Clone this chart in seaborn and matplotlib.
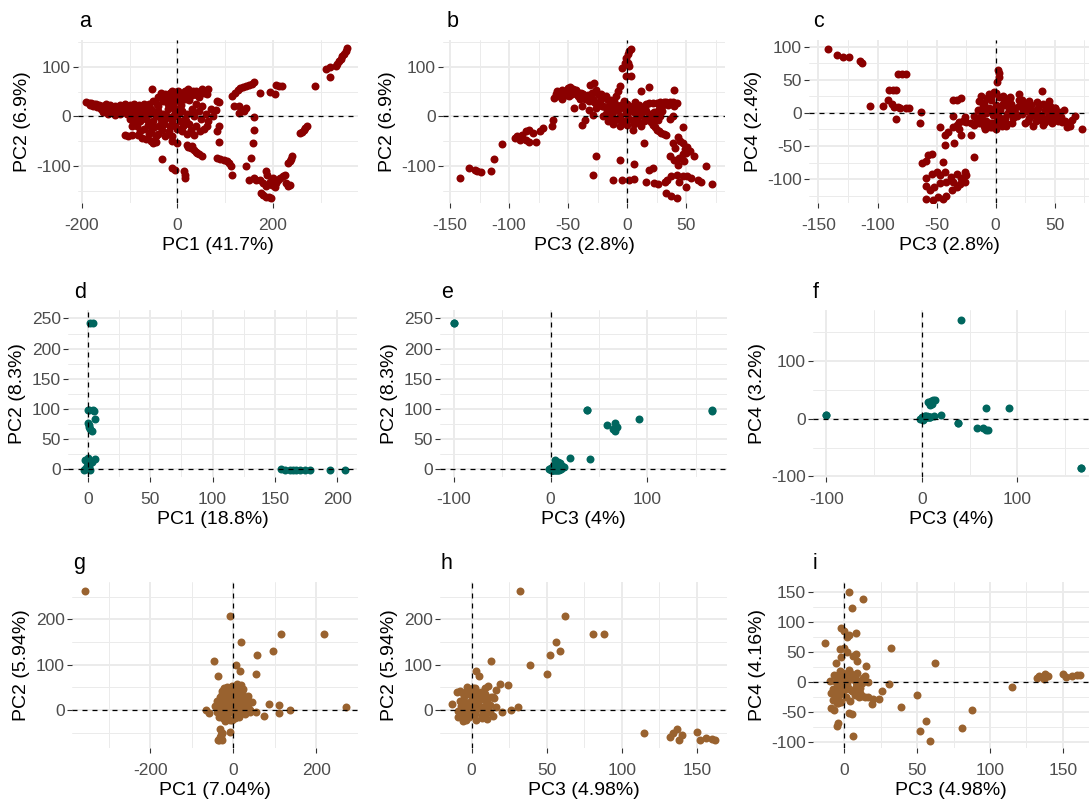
import matplotlib
matplotlib.use("Agg")
import matplotlib.pyplot as plt
import numpy as np
import pandas as pd
import seaborn as sns
from matplotlib.ticker import FixedLocator

# ---------------- data ----------------
# Dataset 1 (dark red): PC1 vs PC2
a_pc1 = [
    -192, -186, -180, -175, -170, -165, -160, -155, -150, -145, -140, -135, -130, -125, -120,
    -182, -176, -168, -160, -152, -146, -140, -134, -128, -150, -140, -130, -120, -155, -145,
    -115, -108, -100, -95, -90, -85, -80, -75, -70, -65,
    -60, -55, -50, -45, -40, -35, -30, -25, -20, -15,
    -10, -5, -100, -92, -85, -78, -70, -62, -55, -48,
    -40, -32, -25, -18, -110, -103, -96, -83, -75, -66,
    -55, -50, -44, -60, -50, -40, -30, -20, -10, 0,
    -70, -80, -90, -100, -110, -120, -60, -35, -120, -130,
    -105, -88, -72, -58, -42, -28, -12, -65, -52, -38,
    -22, -8, 5, 18, 32, -95, -78, -45, -15, 10,
    -54, -40, -30, -25, -20, -15, -10, -5, 0, 5,
    10, 15, 20, 25, 30, 35, 40, 45, 50, 55,
    60, 65, -5, 5, 15, 25,
    -35, -12, 2, 12, 22, 32, 42, 52, 62, -28, 8, 45,
    0, 5, 10, 15, 20, 25, 30, 35, 40, 45,
    50, 55, 60, 65, 70, 75, 12, 28, 48, 62,
    -5, 8, 38, 52, 20, 35, 0, -12,
    -12, 0, -33, -12, -5, 13, 16, 16, 20, 23,
    28, 34, 38, 41, 46, 52, 30,
    80, 83, 87, 87, 82, 87, 83, 90, 98, 103, 108, 112, 115,
    115, 120, 126, 132, 138, 144, 150, 156, 161, 118,
    129, 144, 129, 140, 161, 161, 158, 154, 144, 149,
    172, 193, 204, 207, 218, 212,
    160, 165, 172, 179, 186, 188, 193, 198, 204, 210,
    214, 220, 225, 228, 232, 235, 175, 180, 186, 191,
    196, 207, 200, 185,
    232, 235, 237, 239, 257, 260, 264, 268, 271, 288,
    310, 320, 320, 331, 335, 338, 342, 345, 348, 352,
    356,
]
a_pc2 = [
    28, 27, 26, 25, 24, 22, 21, 20, 19, 17, 16, 15, 14, 13, 12,
    22, 20, 18, 15, 13, 11, 10, 9, 8, 24, 22, 21, 18, 8, 5,
    15, 12, 18, 8, 15, 5, 12, 0, 10, -5,
    5, 15, -10, 0, 10, -15, 5, -5, 15, -20,
    0, 10, -5, -12, -20, -10, -25, -18, -30, -22,
    -35, -28, -40, -30, -37, -40, -38, -37, -43, -45,
    -50, -53, -52, 25, 30, 20, 30, 25, 20, 15,
    25, 22, 25, 22, 25, 22, -35, -5, 5, 3,
    5, -2, 18, -12, 25, -15, -10, 15, 8, -20,
    0, 28, 8, -10, 5, -20, -30, -40, 35, -30,
    55, 38, 42, 45, 38, 48, 42, 50, 45, 40,
    48, 52, 45, 50, 42, 48, 52, 45, 50, 48,
    52, 55, 35, 30, 35, 32,
    48, 52, 52, 42, 55, 52, 42, 55, 45, 35, 38, 38,
    0, -10, 10, -5, 5, -15, 15, 0, -20, 10,
    -5, -25, 5, -10, 15, 0, -20, -28, -30, -20,
    -20, 22, 25, 20, -35, -38, -25, -50,
    -40, -54, -86, -105, -108, -111, -125, -118, -58, -61,
    -64, -68, -72, -74, -77, -81, -60,
    13, 30, 28, -20, -30, -51, -84, -86, -88, -90, -94, -100, -118,
    40, 47, 54, 57, 59, 61, 64, 66, 69, 20,
    20, 17, 7, 10, -1, -27, -54, -84, -101, -128,
    47, 49, 44, 64, 61, 62,
    -125, -128, -128, -135, -111, -118, -132, -138, -142, -128,
    -125, -120, -118, -135, -140, -138, -155, -158, -162, -163,
    -165, -135, -125, -140,
    -95, -91, -86, -81, -34, -31, -27, -24, -20, 62,
    96, 99, 80, 101, 106, 111, 116, 121, 126, 132,
    138,
]

# Dataset 1: PC3 vs PC2
b_pc3 = [
    -142, -134, -129, -127, -124, -115, -113, -106,
    -95, -93, -89, -86, -83, -80, -77, -74, -71, -86, -91, -83,
    -64, -63, -38, -36,
    -62, -59, -55, -50, -48, -43, -39, -35, -31, -28,
    -26, -22, -18, -15, -12, -9, -8, -6, -55, -49,
    -45, -32, -29, -26, -21, -40, -38, -29, -23,
    -60, -57, -53, -50, -46, -44, -41, -37, -33, -30,
    -27, -24, -20, -17, -14, -11, -58, -52, -47, -42,
    -36, -32, -28, -24, -20, -16,
    -4, -2, -1, 1, 2, 3, -1, 3, 1, 2,
    -18, -15, -12, -10, -8, -6, -4, -2, 0, 2,
    4, 6, 8, 10, 12, 14, 16, 18, 20, 22,
    24, -14, -10, -5, 0, 5, 10, -16, -12, -6,
    0, 6, 12, 26, 28, 30, -20, -3, 3, 7,
    -13, -7, -1, 5, 11, 17, 23, -9, -3, 3, 9, 15, 21, -17, 27,
    16, 19, 22, 25, 28, 31, 33, 36, 39, 42, 35, 40, 30,
    16, 20, 22, 24, 25, 27, 29, 31, 33, 39, 36,
    12, 19, 40, 5, 14,
    47, 43, 47, 51, 39, 36, 40, 43, 47, 50, 57, 48, 45, 49, 53, 41, 44,
    -26, -29, -12, -6, -4, 2, 6, 6, 16, 19,
    22, 23, 26, 32, 34, 33, 37, 42, 37, 42,
    47, 51, 54, 50, 60, 63, 67, 72, 44,
]
b_pc2 = [
    -125, -105, -108, -111, -113, -111, -86, -55,
    -44, -40, -37, -30, -27, -34, -51, -30, -24, -47, -47, -51,
    -20, -8, -17, -7,
    37, 51, 54, 57, 59, 54, 47, 40, 64, 67,
    54, 44, 40, 30, 27, 40, 51, 62, 34, 40,
    17, 13, 3, 17, 20, 34, 20, 34, 30,
    45, 50, 48, 52, 55, 50, 48, 45, 42, 48,
    50, 42, 38, 35, 32, 30, 40, 42, 44, 40,
    35, 30, 28, 22, 20, 18,
    98, 108, 118, 125, 132, 135, 81, 81, 108, 101,
    5, -2, 8, -8, 12, 0, -12, 15, 5, -5,
    18, 8, -2, 12, 2, -10, 10, -3, 5, -12,
    3, 10, 18, 22, 25, 20, 22, -10, -15, -20,
    -18, -15, -20, -8, 0, 10, 0, 30, 10, 28,
    0, -5, 8, -8, 6, -6, 8, 22, -10, 15, -12, 18, -5, 12, 15,
    24, 26, 27, 27, 28, 28, 29, 29, 29, 27, 22, 20, 20,
    -7, -12, -17, -22, -27, -30, -34, -36, -37, 0, -5,
    51, 59, 54, -27, -53,
    -22, -42, -54, -61, -54, -81, -88, -98, -76, -74, -81, -91, -50, -66, -70, -64, -84,
    -80, -118, -128, -88, -128, -128, -127, -97, -132, -109,
    -105, -135, -137, -132, -128, -155, -160, -165, -121, -118,
    -121, -121, -125, -142, -128, -132, -101, -137, -132,
]

# Dataset 1: PC3 vs PC4
c_pc3 = [
    -142, -134, -129, -124, -115, -113, -106,
    -83, -79, -76, -90, -87, -84, -91, -88, -95, -86,
    -83, -81, -84, -76, -73, -63, -64,
    -36, -33, -29, -36, -26,
    -47, -43, -40, -36, -33, -31, -28, -25, -21, -18,
    -14, -11, -31, -29, -35, -21, -43, -18, -45, -57,
    -54, -62, -59,
    -59, -54, -50, -47, -43, -38, -33, -29, -26, -25,
    -26, -30, -33, -37, -42, -45, -49, -53, -59, -56,
    -52, -47, -59, -42, -36,
    2, 3, 3, 1,
    -15, -12, -10, -8, -6, -4, -2, 0, 2, 4,
    6, 8, 10, 12, 14, 16, 18, -14, -10, -5,
    0, 5, -12, -6, 0, 4, 8, -2, 2, -8,
    10, -3, 20, -18, -16, 12, -1, 7,
    -13, -9, -5, -1, 3, 7, 11, 15, -11, -7,
    -3, 1, 5, 9, 13, -9, -4, 3, 9, 16,
    20, 22, 24, 26, 28, 30, 32, 34, 36, 38,
    40, 42, 44, 46, 48, 50, 52, 54, 56, 58,
    60, 63, 65, 67, 73, 22, 28, 35, 45, 25,
    32, 40, 48, 38, 30, 42, 51, 50, 39, 20,
    12,
    23, 27, 31, 35, 39, 43, 47, 51, 55, 59, 26, 34, 44, 53, 62,
]
c_pc4 = [
    96, 87, 85, 85, 78, 75, 10,
    59, 59, 59, 34, 35, 35, 19, 14, 10, 9,
    9, 8, -9, 7, 8, 2, -15,
    19, 20, 22, -4, -6,
    -21, -34, -29, -21, -19, -14, -12, -14, -16, -19,
    -16, -11, -24, -34, -46, -34, -48, -66, -74, -64,
    -62, -76, -72,
    -99, -92, -89, -94, -89, -97, -92, -99, -89, -94,
    -105, -107, -112, -117, -125, -130, -127, -131, -130, -117,
    -112, -106, -110, -105, -105,
    65, 60, 54, 47,
    5, -5, 15, -12, 8, 20, -3, 12, -18, 5,
    25, -8, 15, 0, -15, 8, -5, 18, -20, -22,
    -25, -20, 25, 28, 30, -10, 20, 0, 2, 0,
    -2, -15, 20, -5, -12, 22, 32, 12,
    -8, 3, -16, 6, -6, 16, 5, -8, 10, 22,
    -22, -12, 12, -15, 14, -25, 26, 24, -20, 0,
    10, -2, 15, 3, -8, 12, 0, -12, 8, -3,
    14, 5, -6, 10, 0, 7, -8, 2, -14, 4,
    -21, -20, -10, -5, -25, 20, 18, 17, 18, -15,
    -20, -18, -15, -10, 5, -14, -6, 7, 33, 29,
    24,
    5, -12, -3, 4, -8, 10, -10, -2, -6, -12, 10, -5, 2, -12, -15,
]

# Dataset 2 (teal): one entry per sample
d2_pc1 = [2, 4, 1, 4, 6, 1, 2, 0, 1, 3, 6, 0, 155, 158, 162, 165, 167, 170, 174, 178,
          194, 206, -2, 0, -1, 1, 2, 0, -1, 3, -3, 0, 1, 2, -2, 0, 5]
d2_pc2 = [243, 243, 98, 98, 84, 73, 66, 76, 70, 64, 17, 19, 0, -2, -2, -2, -2, -2, -2, -2,
          -2, -2, 0, 2, 5, 8, 10, 6, 3, 12, -2, 1, 4, -1, 15, 98, 97]
d2_pc3 = [-100, -100, 38, 167, 91, 58, 64, 67, 69, 67, 41, 20, 2, 4, 6, 1, 3, 5, 2, 0,
          8, 7, -2, 0, 3, 6, 10, 12, 14, 8, 1, 11, 13, 9, 5, 38, 167]
d2_pc4 = [6, 7, -7, -86, 18, -17, -16, 18, -20, -19, 170, 6, 1, 2, 3, 0, 4, 2, 3, 1,
          2, 3, 0, 2, 4, 28, 30, 32, 33, 24, -2, 26, 4, 3, 5, -7, -86]

# Dataset 3 (brown): one entry per sample
d3_pc1 = [
    -356, -8, 115, 219, 19, 95, 58, -47, 6, 15, 55, -36, 10, 18, 20, -3, 32,
    -26, -32, -28, -31, -36, -30, -8, -34, -29, -33, -27,
    270, 137, 109, 111, 85, 75, 55, 36, 40, -65, -58, -34, -8,
    -40, -35, -30, -28, -25, -22, -20, -18, -15, -12,
    -10, -8, -5, -3, 0, 2, 4, 6, 8, 10,
    12, 14, 16, 18, 20, 22, 25, 28, 30, 35,
    40, 45, -38, -32, -26, -24, -16, -14, -6, -2,
    3, 5, 9, 13, 17, 24, -44, -20, 0, -10,
    -12, 4, -6, 7, -18, -4, 10, -28, 0, 12, -20, 14, -8,
    -15, 8, -5, 20, -22,
]
d3_pc2 = [
    262, 208, 167, 167, 149, 130, 121, 107, 99, 86, 79, 74, 57, 54, 44, 53, 26,
    -50, -59, -52, -43, -66, -56, -49, -66, -63, -65, -66,
    7, -1, 11, -6, 13, -13, -4, 7, -4, 0, -7, -15, -22,
    20, 10, 0, 35, -10, 48, 15, 5, 25, -20,
    40, 8, 30, -5, 18, 45, 2, 22, -12, 35,
    10, 28, -2, 15, 40, 5, 20, -8, 12, 30,
    0, 18, -5, 28, 42, -18, 50, -12, 48, -22,
    33, -18, 48, -15, 30, 45, 8, -25, 5, 12,
    10, 15, 22, 6, 30, 35, 2, 18, 40, 25, 8, 38, 16,
    20, 12, 2, 28, 24,
]
d3_pc3 = [
    32, 62, 81, 88, 56, 59, 52, 13, 39, 3, 50, 5, 19, 24, 16, 11, 15,
    115, 132, 134, 137, 138, 140, 150, 152, 156, 160, 162,
    31, 26, 12, 8, -13, 14, 20, 16, 11, -5, -7, -9, -4,
    -8, -6, -4, -2, 0, 2, 4, 6, 8, 10,
    -10, -7, -5, -3, -1, 1, 3, 5, 7, 9,
    11, 13, -9, -6, -4, -2, 0, 2, 4, 6,
    8, 10, 12, 14, -8, -5, -3, -1, 1, 3,
    5, 7, 9, -2, 0, 2, -4, -6, 0, -3,
    -2, 0, 3, 8, 2, -3, 0, 2, 6, 8, 9, -6, -2,
    -5, -4, 6, 3, 5,
]
d3_pc4 = [
    57, 32, -76, -47, -65, -99, -81, 137, -42, 150, -22, 123, -37, -28, -25, -18, 27,
    -8, 7, 10, 4, 13, 10, 13, 8, 10, 11, 11,
    -4, -15, -24, -20, 64, -25, -29, -1, -10, -36, -46, -43, -35,
    -30, -20, -10, 5, 10, -5, 15, -15, 0, -25,
    2, 12, -8, 18, -3, 8, -12, 4, -22, 14,
    -6, 6, -18, 10, -28, 16, -14, 0, -32, 12,
    -8, 2, -2, 9, -12, 6, -20, 14, -26, 19,
    -16, 7, -4, -34, 3, -9, 11, -1, 0, -13,
    89, 85, 78, 81, 74, 54, 57, 49, 43, 47, 34, 32, 41,
    -73, -69, -90, -51, -53,
]

panel_letters = ["a", "b", "c", "d", "e", "f", "g", "h", "i"]
x_titles = ["PC1 (41.7%)", "PC3 (2.8%)", "PC3 (2.8%)",
            "PC1 (18.8%)", "PC3 (4%)", "PC3 (4%)",
            "PC1 (7.04%)", "PC3 (4.98%)", "PC3 (4.98%)"]
y_titles = ["PC2 (6.9%)", "PC2 (6.9%)", "PC4 (2.4%)",
            "PC2 (8.3%)", "PC2 (8.3%)", "PC4 (3.2%)",
            "PC2 (5.94%)", "PC2 (5.94%)", "PC4 (4.16%)"]

RED, TEAL, BROWN = "#8B0000", "#00665E", "#99622F"

# ---------------- style ----------------
sns.set_theme(style="white")
plt.rcParams["font.family"] = ["Liberation Sans", "DejaVu Sans"]
plt.rcParams["axes.unicode_minus"] = False

W, H = 1089, 805
fig = plt.figure(figsize=(W / 100, H / 100), dpi=100)


def box(x0, y0, x1, y1):
    return [x0 / W, 1 - y1 / H, (x1 - x0) / W, (y1 - y0) / H]


def steps(lo, hi, step):
    return list(np.arange(lo, hi + step / 2, step))


panels = [
    dict(x=a_pc1, y=a_pc2, c=RED, pos=(78, 40, 358, 203),
         xlim=(-208, 378), ylim=(-175, 154),
         xt=[-200, 0, 200], xm=[-100, 100, 300],
         yt=[-100, 0, 100], ym=[-150, -50, 50, 150]),
    dict(x=b_pc3, y=b_pc2, c=RED, pos=(443, 40, 725, 203),
         xlim=(-156, 83), ylim=(-175, 154),
         xt=steps(-150, 50, 50), xm=steps(-125, 75, 50),
         yt=[-100, 0, 100], ym=[-150, -50, 50, 150]),
    dict(x=c_pc3, y=c_pc4, c=RED, pos=(809, 40, 1089, 203),
         xlim=(-158, 79), ylim=(-136, 110),
         xt=steps(-150, 50, 50), xm=steps(-125, 75, 50),
         yt=steps(-100, 100, 50), ym=steps(-125, 75, 50)),
    dict(x=d2_pc1, y=d2_pc2, c=TEAL, pos=(68, 310, 357, 477),
         xlim=(-16, 216), ylim=(-13, 264),
         xt=steps(0, 200, 50), xm=steps(25, 175, 50),
         yt=steps(0, 250, 50), ym=steps(25, 225, 50)),
    dict(x=d2_pc3, y=d2_pc2, c=TEAL, pos=(440, 310, 727, 477),
         xlim=(-114, 182), ylim=(-13, 264),
         xt=[-100, 0, 100], xm=[-50, 50, 150],
         yt=steps(0, 250, 50), ym=steps(25, 225, 50)),
    dict(x=d2_pc3, y=d2_pc4, c=TEAL, pos=(813, 310, 1089, 477),
         xlim=(-114, 175), ylim=(-101, 188),
         xt=[-100, 0, 100], xm=[-50, 50, 150],
         yt=[-100, 0, 100], ym=[-50, 50, 150]),
    dict(x=d3_pc1, y=d3_pc2, c=BROWN, pos=(72, 582, 358, 748),
         xlim=(-388, 300), ylim=(-84, 282),
         xt=[-200, 0, 200], xm=[-300, -100, 100],
         yt=[0, 100, 200], ym=[-50, 50, 150, 250]),
    dict(x=d3_pc3, y=d3_pc2, c=BROWN, pos=(440, 582, 727, 748),
         xlim=(-21, 170), ylim=(-84, 282),
         xt=steps(0, 150, 50), xm=steps(25, 125, 50),
         yt=[0, 100, 200], ym=[-50, 50, 150, 250]),
    dict(x=d3_pc3, y=d3_pc4, c=BROWN, pos=(813, 582, 1089, 748),
         xlim=(-21.5, 168), ylim=(-110, 166),
         xt=steps(0, 150, 50), xm=steps(25, 125, 50),
         yt=steps(-100, 150, 50), ym=steps(-75, 125, 50)),
]

letter_pos = [(79, 27), (447, 27), (813, 27),
              (74, 298), (441, 298), (813, 298),
              (73, 569), (441, 569), (813, 569)]

for p, letter, xt_lab, yt_lab, lp in zip(panels, panel_letters, x_titles,
                                          y_titles, letter_pos):
    ax = fig.add_axes(box(*p["pos"]))
    df = pd.DataFrame({"x": p["x"], "y": p["y"]})
    sns.scatterplot(data=df, x="x", y="y", color=p["c"], s=33, linewidth=0,
                    alpha=1, ax=ax, zorder=3)
    ax.axhline(0, color="black", lw=0.9, ls=(0, (4, 4)), zorder=4)
    ax.axvline(0, color="black", lw=0.9, ls=(0, (4, 4)), zorder=4)
    ax.set_xlim(*p["xlim"])
    ax.set_ylim(*p["ylim"])
    ax.xaxis.set_major_locator(FixedLocator(p["xt"]))
    ax.xaxis.set_minor_locator(FixedLocator(p["xm"]))
    ax.yaxis.set_major_locator(FixedLocator(p["yt"]))
    ax.yaxis.set_minor_locator(FixedLocator(p["ym"]))
    ax.set_xticklabels([f"{v:g}" for v in p["xt"]])
    ax.set_yticklabels([f"{v:g}" for v in p["yt"]])
    ax.grid(which="major", color="#EBEBEB", lw=1.4)
    ax.grid(which="minor", color="#EBEBEB", lw=0.7)
    ax.set_axisbelow(True)
    ax.set_facecolor("white")
    for s in ax.spines.values():
        s.set_visible(False)
    ax.tick_params(which="major", length=3.6, width=0.8, color="#333333",
                   labelsize=12.5, labelcolor="#4D4D4D",
                   bottom=True, left=True)
    ax.tick_params(axis="x", which="major", pad=7)
    ax.tick_params(axis="y", which="major", pad=1.5)
    ax.tick_params(which="minor", length=0)
    ax.set_xlabel(xt_lab, fontsize=14, color="black", labelpad=3)
    ax.set_ylabel(yt_lab, fontsize=14, color="black", labelpad=4)
    fig.text(lp[0] / W, 1 - lp[1] / H, letter, fontsize=15.5, ha="left",
             va="baseline", color="black")

fig.savefig("out.png", dpi=100, facecolor="white")
